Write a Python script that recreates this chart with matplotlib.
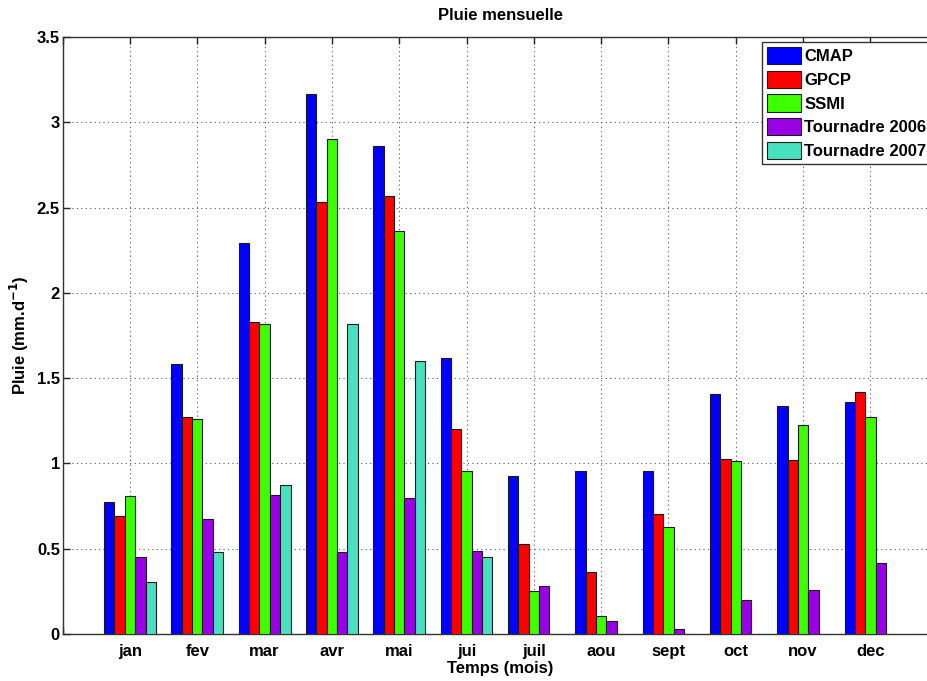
import numpy as np
import matplotlib
matplotlib.use("Agg")
import matplotlib.pyplot as plt

plt.rcParams['font.family'] = ['Liberation Sans', 'DejaVu Sans']
plt.rcParams['font.weight'] = 'bold'
plt.rcParams['mathtext.default'] = 'bf'

mois = ["jan", "fev", "mar", "avr", "mai", "jui", "juil", "aou", "sept", "oct", "nov", "dec"]
noms = ["CMAP", "GPCP", "SSMI", "Tournadre 2006", "Tournadre 2007"]
couleurs = ["#0000ff", "#ff0000", "#3cff00", "#9a00e6", "#48e0c0"]

cmap = [0.775, 1.584, 2.293, 3.164, 2.859, 1.617, 0.928, 0.957, 0.957, 1.406, 1.338, 1.361]
gpcp = [0.691, 1.275, 1.828, 2.533, 2.568, 1.201, 0.529, 0.363, 0.705, 1.025, 1.020, 1.418]
ssmi = [0.807, 1.258, 1.820, 2.902, 2.363, 0.955, 0.252, 0.107, 0.629, 1.012, 1.225, 1.270]
tour2006 = [0.451, 0.676, 0.816, 0.479, 0.795, 0.484, 0.281, 0.078, 0.029, 0.197, 0.260, 0.416]
tour2007 = [0.305, 0.479, 0.871, 1.820, 1.598, 0.451, np.nan, np.nan, np.nan, np.nan, np.nan, np.nan]

series = [cmap, gpcp, ssmi, tour2006, tour2007]

fig = plt.figure(figsize=(9.27, 6.81), dpi=100)
# l'axe depasse a droite de l'image, comme dans la figure d'origine
ax = fig.add_axes([62.7/927, 47/681, 875/927, 597/681])

x = np.arange(1, 13)
n = len(series)
largeur_groupe = n / (n + 1.5)
w = largeur_groupe / n
for k in range(n):
    off = -largeur_groupe/2 + w*(k + 0.5)
    ax.bar(x + off, series[k], w, color=couleurs[k], edgecolor='#1a1a1a',
           linewidth=0.8, label=noms[k], zorder=3)

ax.set_xlim(0, 13)
ax.set_ylim(0, 3.5)
ax.set_xticks(np.arange(0, 14))
ax.set_xticklabels([""] + mois + [""])
ax.set_yticks(np.arange(0, 3.51, 0.5))
ax.set_yticklabels(["0", "0.5", "1", "1.5", "2", "2.5", "3", "3.5"])
ax.tick_params(direction='in', top=True, right=True, length=5, width=1,
               labelsize=12, pad=5, colors='#222222', labelcolor='black')
ax.tick_params(axis='x', pad=7)
ax.tick_params(axis='y', pad=2)
ax.grid(True, linestyle=(0, (1, 3)), color='#555555', linewidth=0.8, zorder=0)
for s in ax.spines.values():
    s.set_color('#333333')
    s.set_linewidth(1)

ax.set_title("Pluie mensuelle", fontsize=12, fontweight='bold', pad=12)
ax.set_xlabel("Temps (mois)", fontsize=12, fontweight='bold', labelpad=2)
ax.set_ylabel("Pluie (mm.d$^{-1}$)", fontsize=12, fontweight='bold', labelpad=4)

leg = ax.legend(loc='upper left', bbox_to_anchor=(0.799, 0.992), borderaxespad=0,
                fontsize=12, handlelength=2.05, handleheight=1.2, labelspacing=0.4,
                handletextpad=0.2, borderpad=0.3, fancybox=False, framealpha=1,
                edgecolor='#333333')
leg.get_frame().set_linewidth(1)

fig.savefig("out.png", dpi=100)
